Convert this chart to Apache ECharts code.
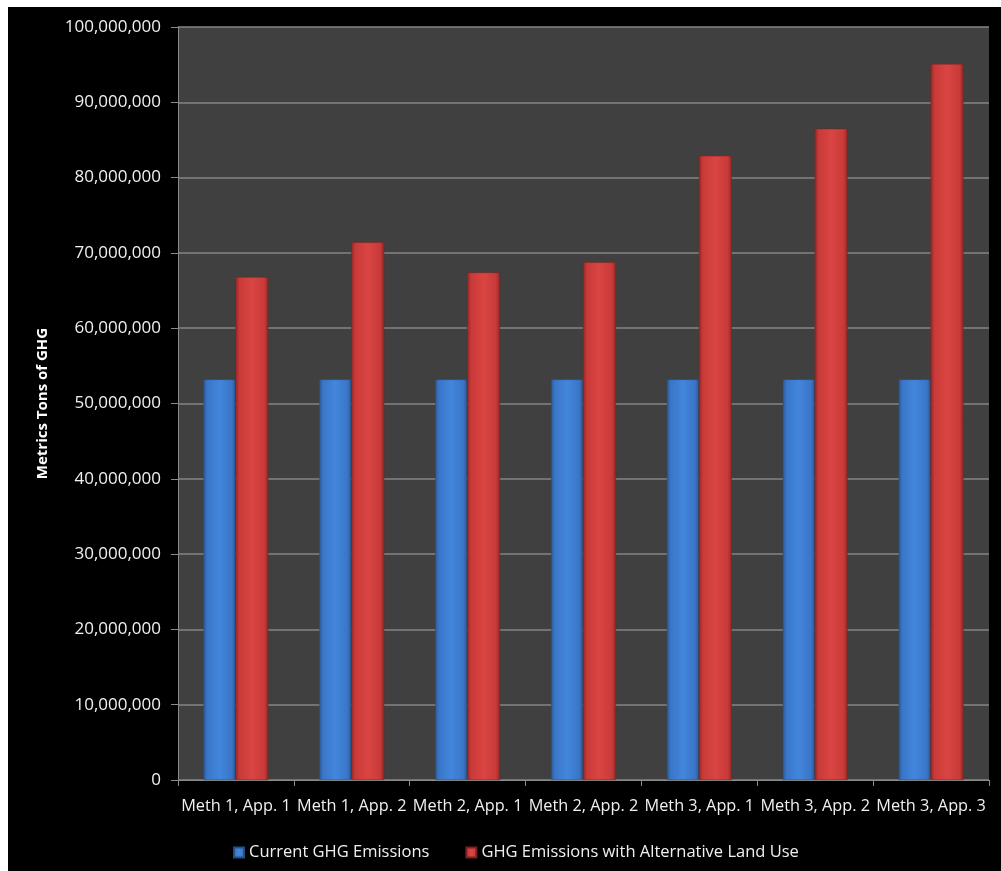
<!DOCTYPE html>
<html>
<head>
<meta charset="utf-8">
<script src="https://cdn.jsdelivr.net/npm/echarts@6/dist/echarts.min.js"></script>
<style>
html,body{margin:0;padding:0;background:#ffffff;}
#chart{position:absolute;left:8px;top:7px;width:993px;height:864px;background:#000;}
</style>
</head>
<body>
<div id="chart"></div>
<script>
const categories = ["Meth 1, App. 1","Meth 1, App. 2","Meth 2, App. 1","Meth 2, App. 2","Meth 3, App. 1","Meth 3, App. 2","Meth 3, App. 3"];
const currentGHG = [53200000,53200000,53200000,53200000,53200000,53200000,53200000];
const alternativeGHG = [66800000,71400000,67400000,68750000,82900000,86500000,95100000];
const seriesNames = ["Current GHG Emissions","GHG Emissions with Alternative Land Use"];
const yAxisTitle = "Metrics Tons of GHG";

function grad(dark, mid, light){
  return new echarts.graphic.LinearGradient(0,0,1,0,[
    {offset:0,color:dark},{offset:0.12,color:mid},{offset:0.5,color:light},{offset:0.88,color:mid},{offset:1,color:dark}
  ]);
}
const blueFill = grad('#2b5a96','#3a76c8','#4286dc');
const redFill = grad('#8e2727','#c83a38','#da4542');

const chart = echarts.init(document.getElementById('chart'));
const fontFam = '"Open Sans", Lato, sans-serif';
chart.setOption({
  backgroundColor:'#000000',
  animation:false,
  grid:{left:170,right:12,top:20,bottom:91,backgroundColor:'#404040',show:true,borderWidth:0},
  legend:{
    bottom:5,left:220,itemGap:36,itemWidth:10,itemHeight:10,
    textStyle:{color:'#f0f0f0',fontSize:16.5,fontFamily:fontFam},
    data:[{name:seriesNames[0],icon:'rect'},{name:seriesNames[1],icon:'rect'}]
  },
  xAxis:{
    type:'category',data:categories,
    axisLine:{lineStyle:{color:'#8a8a8a',width:1}},
    axisTick:{show:true,length:6,lineStyle:{color:'#8a8a8a'}},
    axisLabel:{color:'#f0f0f0',fontSize:16.3,fontFamily:fontFam,margin:18,interval:0}
  },
  yAxis:{
    type:'value',min:0,max:100000000,interval:10000000,
    name:yAxisTitle,nameLocation:'middle',nameGap:128,nameRotate:90,
    nameTextStyle:{color:'#ffffff',fontSize:15,fontWeight:'bold',fontFamily:fontFam},
    axisLine:{show:true,lineStyle:{color:'#8a8a8a'}},
    axisTick:{show:true,length:7,lineStyle:{color:'#8a8a8a'}},
    splitLine:{lineStyle:{color:'#858585',width:1.5}},
    axisLabel:{color:'#f0f0f0',fontSize:17,fontFamily:fontFam,margin:17,
      formatter:v=>v.toLocaleString('en-US')}
  },
  series:[
    {name:seriesNames[0],type:'bar',data:currentGHG,barWidth:'27.5%',barGap:'0%',
     itemStyle:{color:blueFill,borderColor:'#24507f',borderWidth:0.5}},
    {name:seriesNames[1],type:'bar',data:alternativeGHG,barWidth:'28.5%',barGap:'0%',
     itemStyle:{color:redFill,borderColor:'#7a2020',borderWidth:0.5}}
  ]
});
</script>
</body>
</html>
